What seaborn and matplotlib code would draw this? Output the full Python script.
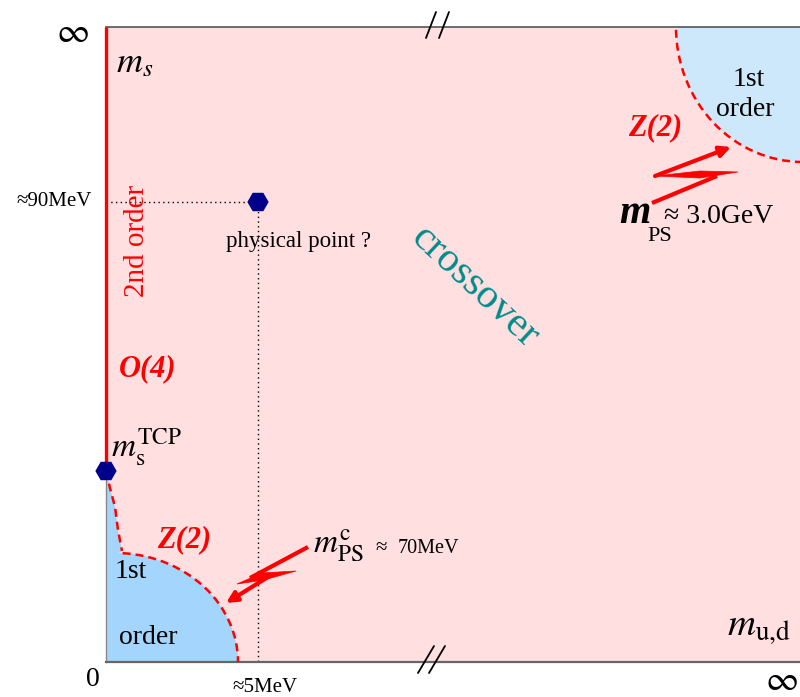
import numpy as np
import matplotlib
matplotlib.use("Agg")
import matplotlib.pyplot as plt
from matplotlib.patches import Ellipse, Arc, Polygon
import pandas as pd
import seaborn as sns

# ---- diagram data (x: m_ud direction, y: m_s direction; y grows downward) ----
point_names = ["physical point", "tricritical point"]
point_x = [258, 106]
point_y = [202, 471]

# second-order O(4) line on the m_ud = 0 axis
o4_x = [106, 106]
o4_y = [27, 471]

# Z(2) line running down from the tricritical point
z2_x = [106, 110, 115, 118, 122]
z2_y = [471, 488, 507, 530, 551]

# first-order regions (elliptical boundaries): centre, width, height
light_center, light_w, light_h = (115, 662), 246, 218
heavy_center, heavy_w, heavy_h = (803, 27), 254, 270

PINK = "#ffdfe0"
BLUE_LIGHT_Q = "#a3d5fd"
BLUE_HEAVY_Q = "#cce8fa"
RED = "#ff0000"
NAVY = "#00008b"
TEAL = "#008b8b"

sns.set_theme(style="white")
plt.rcParams["font.family"] = ["Liberation Serif", "DejaVu Serif"]
plt.rcParams["mathtext.fontset"] = "stix"
plt.rcParams["text.color"] = "black"

fig = plt.figure(figsize=(8, 6.97), dpi=100)
ax = fig.add_axes([106 / 800, 35 / 697, 694 / 800, 635 / 697])
ax.set_xlim(106, 800)
ax.set_ylim(662, 27)
ax.set_facecolor(PINK)
ax.set_xticks([])
ax.set_yticks([])
ax.spines["right"].set_visible(False)
ax.spines["top"].set_color("#555555")
ax.spines["top"].set_linewidth(1.2)
ax.spines["bottom"].set_color("#666666")
ax.spines["bottom"].set_linewidth(1.6)
ax.spines["left"].set_color("#888888")
ax.spines["left"].set_linewidth(1.0)

dash = (0, (3.2, 2.0))

# light-quark first-order corner
ax.add_patch(Ellipse(light_center, light_w, light_h, facecolor=BLUE_LIGHT_Q,
                     edgecolor="none", zorder=1))
ax.add_patch(Polygon(list(zip(z2_x, z2_y)) + [(106, 560)], closed=True,
                     facecolor=BLUE_LIGHT_Q, edgecolor="none", zorder=1))
ax.add_patch(Arc(light_center, light_w, light_h, theta1=274, theta2=360,
                 color=RED, lw=1.8, linestyle=dash, zorder=3))
z2_df = pd.DataFrame({"x": z2_x, "y": z2_y})
sns.lineplot(data=z2_df, x="x", y="y", sort=False, estimator=None, ax=ax,
             color=RED, lw=1.8, linestyle=dash, zorder=3)

# heavy-quark first-order corner
ax.add_patch(Ellipse(heavy_center, heavy_w, heavy_h, facecolor=BLUE_HEAVY_Q,
                     edgecolor="none", zorder=1))
ax.add_patch(Arc(heavy_center, heavy_w, heavy_h, theta1=90, theta2=180,
                 color=RED, lw=1.8, linestyle=dash, zorder=3))

# O(4) line
ax.plot(o4_x, o4_y, color=RED, lw=2.4, solid_capstyle="butt", zorder=4,
        clip_on=False)

# guide lines to the physical point
ax.plot([106, point_x[0]], [point_y[0], point_y[0]], color="black", lw=1.0,
        linestyle=(0, (1, 2.4)), zorder=2)
ax.plot([point_x[0], point_x[0]], [point_y[0], 662], color="black", lw=1.0,
        linestyle=(0, (1, 2.4)), zorder=2)

# hexagon markers
pts = pd.DataFrame({"name": point_names, "x": point_x, "y": point_y})
sns.scatterplot(data=pts, x="x", y="y", marker="H", s=235, color=NAVY,
                edgecolor="none", ax=ax, zorder=6, clip_on=False, legend=False)
ax.set_xlabel("")
ax.set_ylabel("")


def bolt(upper, wedge, lower, head):
    """Lightning-shaped arrow: upper stroke, thin cross wedge, arrowed lower stroke."""
    ax.plot(*zip(*upper), color=RED, lw=3.0, solid_capstyle="butt", zorder=4)
    ax.add_patch(Polygon(wedge, closed=True, facecolor=RED, edgecolor=RED,
                         lw=0.5, zorder=4))
    ax.annotate("", xy=head, xytext=lower,
                arrowprops=dict(arrowstyle="-|>", color=RED, lw=3.0,
                                mutation_scale=16, shrinkA=0, shrinkB=0),
                zorder=4)


# bolt towards the light-quark Z(2) line
bolt(upper=[(308, 547), (250, 578)],
     wedge=[(237, 584), (262, 573), (296, 571), (264, 580)],
     lower=(268, 577), head=(226, 603))
# bolt towards the heavy-quark Z(2) line
ax.annotate("", xy=(731, 147), xytext=(655, 176),
            arrowprops=dict(arrowstyle="-|>", color=RED, lw=3.0,
                            mutation_scale=16, shrinkA=0, shrinkB=0), zorder=4)
ax.add_patch(Polygon([(655, 176), (700, 171), (738, 172), (700, 178)],
                     closed=True, facecolor=RED, edgecolor=RED, lw=0.5,
                     zorder=4))
ax.plot([717, 652], [176, 203], color=RED, lw=3.0, solid_capstyle="butt",
        zorder=4)

# axis break marks
for xs, ys in [([436, 426], [12, 38]), ([449, 439], [12, 38]),
               ([434, 418], [646, 673]), ([445, 429], [646, 673])]:
    ax.plot(xs, ys, color="black", lw=1.3, clip_on=False, zorder=7)

# ---- text ----
ax.text(72, 33, r"$\infty$", fontsize=26, ha="center", va="center")
ax.text(93, 680, "0", fontsize=20, ha="center", va="center")
ax.text(781, 681, r"$\infty$", fontsize=26, ha="center", va="center")
ax.text(92, 202, "≈90MeV", fontsize=15, ha="right", va="center")
ax.text(265, 688, "≈5MeV", fontsize=15, ha="center", va="center")

ax.text(116, 72, r"$m_s$", fontsize=26, ha="left", va="baseline")
ax.text(727, 635, r"$m_{\rm u{,}d}$", fontsize=28, ha="left", va="baseline")

ax.text(137, 241, "2nd order", fontsize=21, color=RED, rotation=90,
        ha="center", va="center")
ax.text(148, 369, "O(4)", fontsize=22, color=RED, fontweight="bold",
        fontstyle="italic", ha="center", va="center")
ax.text(111, 456, r"$m_{\rm s}^{\rm TCP}$", fontsize=24, ha="left",
        va="baseline")
ax.text(184, 540, "Z(2)", fontsize=22, color=RED, fontweight="bold",
        fontstyle="italic", ha="center", va="center")
ax.text(131, 572, "1st", fontsize=20, ha="center", va="center")
ax.text(148, 637, "order", fontsize=20, ha="center", va="center")
ax.text(313, 553, r"$m_{\rm PS}^{\rm c}$", fontsize=24, ha="left",
        va="baseline")
ax.text(375, 553, "≈", fontsize=15, ha="left", va="baseline")
ax.text(398, 553, "70MeV", fontsize=14.5, ha="left", va="baseline")

ax.text(475, 287, "crossover", fontsize=30, color=TEAL, rotation=-43,
        ha="center", va="center", rotation_mode="anchor")
ax.text(299, 241, "physical point ?", fontsize=16.5, ha="center", va="center")

ax.text(655, 128, "Z(2)", fontsize=22, color=RED, fontweight="bold",
        fontstyle="italic", ha="center", va="center")
ax.text(749, 80, "1st", fontsize=20, ha="center", va="center")
ax.text(745, 110, "order", fontsize=20, ha="center", va="center")
ax.text(619, 223, "m", fontsize=29, fontweight="bold", fontstyle="italic",
        ha="left", va="baseline")
ax.text(647, 241, "PS", fontsize=16, ha="left", va="baseline")
ax.text(664, 223, "≈ 3.0GeV", fontsize=20, ha="left", va="baseline")

fig.savefig("out.png", dpi=100, facecolor="white")
